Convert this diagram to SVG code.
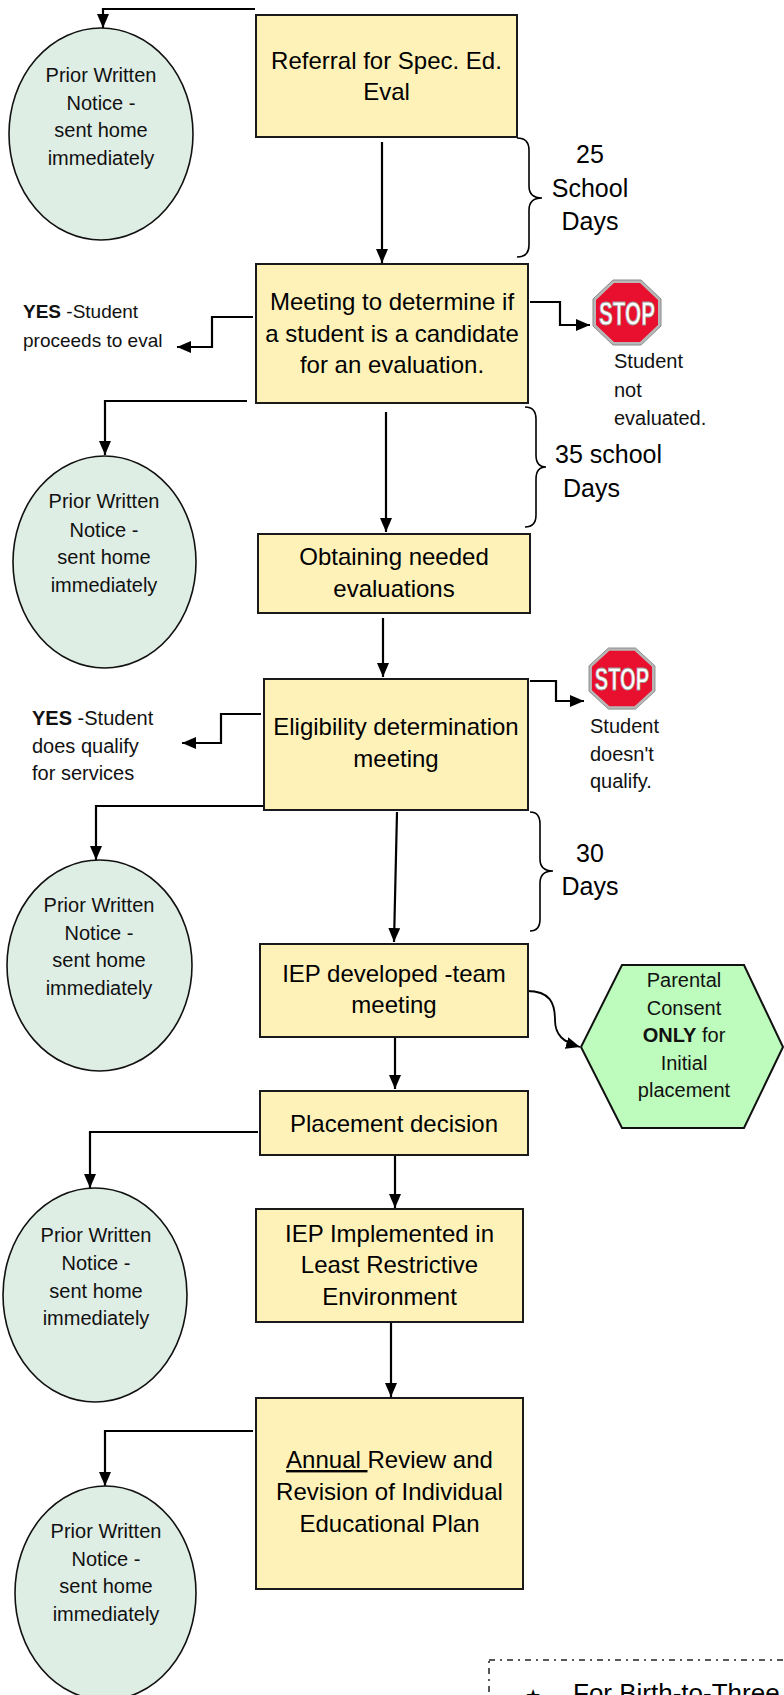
<svg xmlns="http://www.w3.org/2000/svg" width="784" height="1695" viewBox="0 0 784 1695">
<style>
.box{fill:#fff2b9;stroke:#1a1a1a;stroke-width:2}
.pwn{fill:#dfeee5;stroke:#111;stroke-width:1.6}
.bt{font-family:"Liberation Sans",Arial,sans-serif;font-size:24px;fill:#000;text-anchor:middle}
.ct{font-family:"Liberation Sans",Arial,sans-serif;font-size:20px;fill:#111;text-anchor:middle}
.st{font-family:"Liberation Sans",Arial,sans-serif;font-size:20px;fill:#111}
.dt{font-family:"Liberation Sans",Arial,sans-serif;font-size:25px;fill:#000}
.con{fill:none;stroke:#000;stroke-width:2.2}
.brace{fill:none;stroke:#000;stroke-width:1.6}
</style>
<defs>
<marker id="arr" viewBox="0 0 14 12" refX="14" refY="6" markerWidth="14" markerHeight="12" orient="auto" markerUnits="userSpaceOnUse">
<path d="M0,0 L14,6 L0,12 z" fill="#000"/>
</marker>
<g id="stopsign">
<polygon points="20,0 48,0 68,19 68,46 48,65 20,65 0,46 0,19" fill="#b8b8b8" stroke="#8a8a8a" stroke-width="1"/>
<polygon points="21,3 47,3 65,20 65,45 47,62 21,62 3,45 3,20" fill="#e8102e"/>
<text x="34" y="45" text-anchor="middle" font-family="Liberation Sans,Arial,sans-serif" font-weight="bold" font-size="34" fill="#fff" stroke="#9a9a9a" stroke-width="0.8" textLength="56" lengthAdjust="spacingAndGlyphs">STOP</text>
</g>
</defs>
<rect width="784" height="1695" fill="#fff"/>

<g id="connectors">
<path class="con" d="M255,9 H103 V28" marker-end="url(#arr)"/>
<path class="con" d="M382,142 V263" marker-end="url(#arr)"/>
<path class="con" d="M253,317 H212 V347 H177" marker-end="url(#arr)"/>
<path class="con" d="M530,302 H560 V325 H590" marker-end="url(#arr)"/>
<path class="con" d="M247,401 H105 V455" marker-end="url(#arr)"/>
<path class="con" d="M386,412 V532" marker-end="url(#arr)"/>
<path class="con" d="M383,618 V677" marker-end="url(#arr)"/>
<path class="con" d="M261,714 H221 V743 H182" marker-end="url(#arr)"/>
<path class="con" d="M530,681 H556 V701 H584" marker-end="url(#arr)"/>
<path class="con" d="M263,806 H96 V860" marker-end="url(#arr)"/>
<path class="con" d="M397,812 L394,942" marker-end="url(#arr)"/>
<path class="con" d="M527,991 C550,991 555,1003 555,1020 C555,1035 563,1042 580,1047" marker-end="url(#arr)" style="stroke-width:1.8"/>
<path class="con" d="M395,1037 V1089" marker-end="url(#arr)"/>
<path class="con" d="M258,1132 H90 V1188" marker-end="url(#arr)"/>
<path class="con" d="M395,1155 V1208" marker-end="url(#arr)"/>
<path class="con" d="M391,1322 V1397" marker-end="url(#arr)"/>
<path class="con" d="M253,1431 H105 V1486" marker-end="url(#arr)"/>
</g>

<g id="referral">
<rect class="box" x="256" y="15" width="261" height="122"/>
<text class="bt" x="386.5" y="69">Referral for Spec. Ed.</text>
<text class="bt" x="386.5" y="100">Eval</text>
</g>

<g id="pwn1">
<ellipse class="pwn" cx="101" cy="134" rx="92" ry="106"/>
<text class="ct" x="101" y="82">Prior Written</text>
<text class="ct" x="101" y="110">Notice -</text>
<text class="ct" x="101" y="137">sent home</text>
<text class="ct" x="101" y="165">immediately</text>
</g>

<g id="brace1">
<path class="brace" d="M517,138 Q529,138 529,150 V186 Q529,198 542,198 Q529,198 529,210 V245 Q529,257 517,257"/>
<text class="dt" x="590" y="163" text-anchor="middle">25</text>
<text class="dt" x="590" y="197" text-anchor="middle">School</text>
<text class="dt" x="590" y="230" text-anchor="middle">Days</text>
</g>

<g id="meeting">
<rect class="box" x="256" y="264" width="272" height="139"/>
<text class="bt" x="392" y="310">Meeting to determine if</text>
<text class="bt" x="392" y="342">a student is a candidate</text>
<text class="bt" x="392" y="373">for an evaluation.</text>
</g>

<g id="yes1">
<text class="st" x="23" y="318" style="font-size:19px"><tspan font-weight="bold">YES</tspan> -Student</text>
<text class="st" x="23" y="347" style="font-size:19px">proceeds to eval</text>
</g>

<g id="stop1">
<use href="#stopsign" x="593" y="280"/>
<text class="st" x="614" y="368">Student</text>
<text class="st" x="614" y="397">not</text>
<text class="st" x="614" y="425">evaluated.</text>
</g>

<g id="pwn2">
<ellipse class="pwn" cx="104.5" cy="562" rx="91.5" ry="106"/>
<text class="ct" x="104" y="508">Prior Written</text>
<text class="ct" x="104" y="537">Notice -</text>
<text class="ct" x="104" y="564">sent home</text>
<text class="ct" x="104" y="592">immediately</text>
</g>

<g id="brace2">
<path class="brace" d="M525,407 Q536,407 536,419 V455 Q536,467 546,467 Q536,467 536,479 V515 Q536,527 525,527"/>
<text class="dt" x="555" y="463">35 school</text>
<text class="dt" x="563" y="497">Days</text>
</g>

<g id="obtaining">
<rect class="box" x="258" y="534" width="272" height="79"/>
<text class="bt" x="394" y="565">Obtaining needed</text>
<text class="bt" x="394" y="597">evaluations</text>
</g>

<g id="eligibility">
<rect class="box" x="264" y="679" width="264" height="131"/>
<text class="bt" x="396" y="735">Eligibility determination</text>
<text class="bt" x="396" y="767">meeting</text>
</g>

<g id="yes2">
<text class="st" x="32" y="725"><tspan font-weight="bold">YES</tspan> -Student</text>
<text class="st" x="32" y="753">does qualify</text>
<text class="st" x="32" y="780">for services</text>
</g>

<g id="stop2">
<use href="#stopsign" transform="translate(589,648) scale(0.97,0.94)"/>
<text class="st" x="590" y="733">Student</text>
<text class="st" x="590" y="761">doesn't</text>
<text class="st" x="590" y="788">qualify.</text>
</g>

<g id="pwn3">
<ellipse class="pwn" cx="99.5" cy="965.5" rx="92.5" ry="105.5"/>
<text class="ct" x="99" y="912">Prior Written</text>
<text class="ct" x="99" y="940">Notice -</text>
<text class="ct" x="99" y="967">sent home</text>
<text class="ct" x="99" y="995">immediately</text>
</g>

<g id="brace3">
<path class="brace" d="M530,812 Q540,812 540,824 V859 Q540,871 553,871 Q540,871 540,883 V919 Q540,931 530,931"/>
<text class="dt" x="590" y="862" text-anchor="middle">30</text>
<text class="dt" x="590" y="895" text-anchor="middle">Days</text>
</g>

<g id="iep">
<rect class="box" x="260" y="944" width="268" height="93"/>
<text class="bt" x="394" y="982">IEP developed -team</text>
<text class="bt" x="394" y="1013">meeting</text>
</g>

<g id="consent">
<polygon points="622,965 744,965 783,1047 744,1128 622,1128 581,1047" fill="#bdfcbd" stroke="#111" stroke-width="2"/>
<text class="ct" x="684" y="987">Parental</text>
<text class="ct" x="684" y="1015">Consent</text>
<text class="ct" x="684" y="1042"><tspan font-weight="bold">ONLY</tspan> for</text>
<text class="ct" x="684" y="1070">Initial</text>
<text class="ct" x="684" y="1097">placement</text>
</g>

<g id="placement">
<rect class="box" x="260" y="1091" width="268" height="64"/>
<text class="bt" x="394" y="1132">Placement decision</text>
</g>

<g id="pwn4">
<ellipse class="pwn" cx="95" cy="1295" rx="92" ry="107"/>
<text class="ct" x="96" y="1242">Prior Written</text>
<text class="ct" x="96" y="1270">Notice -</text>
<text class="ct" x="96" y="1298">sent home</text>
<text class="ct" x="96" y="1325">immediately</text>
</g>

<g id="implemented">
<rect class="box" x="256" y="1209" width="267" height="113"/>
<text class="bt" x="389.5" y="1242">IEP Implemented in</text>
<text class="bt" x="389.5" y="1273">Least Restrictive</text>
<text class="bt" x="389.5" y="1305">Environment</text>
</g>

<g id="annual">
<rect class="box" x="256" y="1398" width="267" height="191"/>
<text class="bt" x="389.5" y="1468"><tspan text-decoration="underline">Annual </tspan>Review and</text>
<text class="bt" x="389.5" y="1500">Revision of Individual</text>
<text class="bt" x="389.5" y="1532">Educational Plan</text>
</g>

<g id="pwn5">
<ellipse class="pwn" cx="105.5" cy="1593" rx="90.5" ry="107"/>
<text class="ct" x="106" y="1538">Prior Written</text>
<text class="ct" x="106" y="1566">Notice -</text>
<text class="ct" x="106" y="1593">sent home</text>
<text class="ct" x="106" y="1621">immediately</text>
</g>

<g id="note">
<rect x="489" y="1660" width="330" height="100" fill="none" stroke="#222" stroke-width="1.5" stroke-dasharray="6 5 2 5"/>
<text x="533" y="1702" text-anchor="middle" font-family="DejaVu Sans,sans-serif" font-size="18" fill="#000">★</text>
<text x="573" y="1702" font-family="Liberation Sans,Arial,sans-serif" font-size="26" fill="#000">For Birth-to-Three</text>
</g>
</svg>
